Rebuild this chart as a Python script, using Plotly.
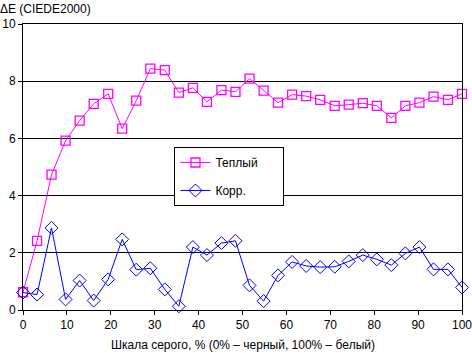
import plotly.graph_objects as go

x_vals = [0, 3.2, 6.5, 9.7, 12.9, 16.1, 19.4, 22.6, 25.8, 29.0, 32.3, 35.5, 38.7, 41.9, 45.2, 48.4,
          51.6, 54.8, 58.1, 61.3, 64.5, 67.7, 71.0, 74.2, 77.4, 80.6, 83.9, 87.1, 90.3, 93.5, 96.8, 100]
warm = [0.62, 2.42, 4.73, 5.92, 6.62, 7.21, 7.56, 6.34, 7.32, 8.44, 8.39, 7.60, 7.77, 7.28, 7.69, 7.63,
        8.09, 7.67, 7.25, 7.53, 7.48, 7.35, 7.14, 7.18, 7.23, 7.14, 6.72, 7.14, 7.25, 7.46, 7.35, 7.56]
corr = [0.61, 0.54, 2.87, 0.37, 1.03, 0.33, 1.07, 2.47, 1.41, 1.46, 0.72, 0.13, 2.20, 1.92, 2.34, 2.42,
        0.86, 0.31, 1.21, 1.68, 1.54, 1.50, 1.51, 1.70, 1.92, 1.77, 1.57, 1.98, 2.20, 1.42, 1.42, 0.79]
x_ticks = [0, 10, 20, 30, 40, 50, 60, 70, 80, 90, 100]
y_ticks = [0, 2, 4, 6, 8, 10]

FONT = "Liberation Sans, Arial, sans-serif"
PAD = "\u00a0" * 6

fig = go.Figure()
fig.add_trace(go.Scatter(
    x=x_vals, y=warm, mode="lines+markers", name="Теплый" + PAD, legendgroup="a",
    line=dict(color="#FF00FF", width=1),
    marker=dict(symbol="square-open", size=9, color="#FF00FF", line=dict(width=1.3, color="#FF00FF")),
    cliponaxis=False))
fig.add_trace(go.Scatter(
    x=x_vals, y=corr, mode="lines+markers", name="Корр." + PAD, legendgroup="b",
    line=dict(color="#0000FF", width=1),
    marker=dict(symbol="diamond-open", size=10, color="#0000FF", line=dict(width=1, color="#0000FF")),
    cliponaxis=False))

fig.update_layout(
    width=472, height=353,
    margin=dict(l=23, r=10, t=24, b=43),
    paper_bgcolor="white", plot_bgcolor="white",
    font=dict(family=FONT, size=12, color="black"),
    showlegend=True,
    legend=dict(x=0.345, y=0.57, xanchor="left", yanchor="top",
                bgcolor="white", bordercolor="black", borderwidth=1,
                font=dict(family=FONT, size=12), tracegroupgap=9,
                traceorder="grouped"),
    annotations=[
        dict(text="ΔE (CIEDE2000)", x=0, y=1, xref="paper", yref="paper",
             xanchor="left", yanchor="bottom", showarrow=False,
             font=dict(family=FONT, size=12, color="black"), xshift=-25, yshift=6),
        dict(text="Шкала серого, % (0% – черный, 100% – белый)", x=0.5, y=0,
             xref="paper", yref="paper", xanchor="center", yanchor="top", showarrow=False,
             font=dict(family=FONT, size=12, color="black"), yshift=-26),
    ],
)
fig.update_xaxes(range=[0, 100], tickvals=x_ticks, showgrid=False, zeroline=False,
                 showline=True, linecolor="black", linewidth=1, mirror=True,
                 ticks="outside", ticklen=4, tickcolor="black", automargin=False,
                 ticklabeloverflow="allow",
                 tickfont=dict(family=FONT, size=12))
fig.update_yaxes(range=[0, 10], tickvals=y_ticks, showgrid=True, gridcolor="black", gridwidth=1,
                 zeroline=False, showline=True, linecolor="black", linewidth=1, mirror=True,
                 ticks="outside", ticklen=4, tickcolor="black", automargin=False,
                 ticklabeloverflow="allow",
                 tickfont=dict(family=FONT, size=12))

fig.write_html("out.html")
